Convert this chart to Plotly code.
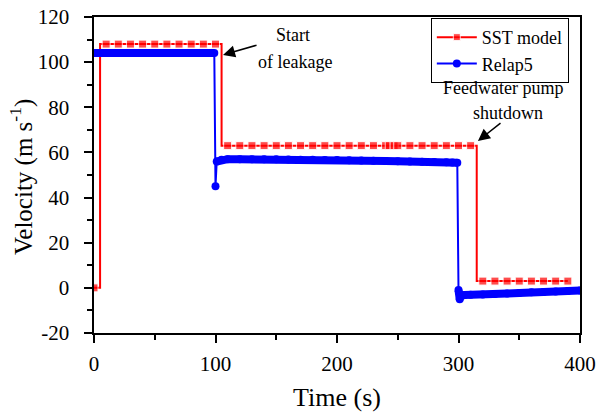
import plotly.graph_objects as go

# ---------------- data ----------------
# SST model (step series; 'sst_marked' flags points drawn with a marker)
sst_time = [0, 5, 5, 10, 20, 30, 40, 50, 60, 70, 80, 90, 100, 105, 105,
            110, 120, 130, 140, 150, 160, 170, 180, 190, 200, 210, 220, 230,
            240, 243, 247, 250, 260, 270, 280, 290, 300, 310, 315, 315,
            320, 330, 340, 350, 360, 370, 380, 390]
sst_vel = [0, 0, 108, 108, 108, 108, 108, 108, 108, 108, 108, 108, 108, 108, 63,
           63, 63, 63, 63, 63, 63, 63, 63, 63, 63, 63, 63, 63,
           63, 63, 63, 63, 63, 63, 63, 63, 63, 63, 63, 3,
           3, 3, 3, 3, 3, 3, 3, 3]
sst_marked = [1, 0, 0, 1, 1, 1, 1, 1, 1, 1, 1, 1, 1, 0, 0,
              1, 1, 1, 1, 1, 1, 1, 1, 1, 1, 1, 1, 1,
              1, 1, 1, 1, 1, 1, 1, 1, 1, 1, 0, 0,
              1, 1, 1, 1, 1, 1, 1, 1]

# Relap5
relap_time = [0, 5, 10, 15, 20, 25, 30, 35, 40, 45, 50, 55, 60, 65, 70, 75, 80, 85, 90, 95, 99,
              100, 101, 105, 110, 120, 130, 140, 150, 160, 170, 180, 190, 200, 210, 220, 230,
              240, 250, 260, 270, 280, 290, 295, 299,
              300, 301, 302, 305, 310, 320, 330, 340, 350, 360, 370, 380, 390, 400]
relap_vel = [104, 104, 104, 104, 104, 104, 104, 104, 104, 104, 104, 104, 104, 104, 104, 104, 104, 104, 104, 104, 104,
             45, 56, 56.8, 57, 57, 57, 57, 57, 56.9, 56.8, 56.8, 56.7, 56.6, 56.5, 56.4, 56.3,
             56.2, 56.1, 56, 55.9, 55.8, 55.6, 55.5, 55.4,
             -1, -5, -3.5, -3.2, -3, -2.9, -2.7, -2.5, -2.3, -2, -1.8, -1.6, -1.4, -1.2]

x_ticks = [0, 100, 200, 300, 400]
y_ticks = [-20, 0, 20, 40, 60, 80, 100, 120]

FONT = "Liberation Serif, Times New Roman, serif"
RED = "#FF0000"
BLUE = "#0000FF"
NBSP = "\u00a0"

# thick band for Relap5 horizontal parts (break on large jumps)
band_t, band_v = [], []
for i, (t, v) in enumerate(zip(relap_time, relap_vel)):
    if i > 0 and abs(v - relap_vel[i - 1]) > 5:
        band_t.append(None)
        band_v.append(None)
    band_t.append(t)
    band_v.append(v)

fig = go.Figure()

fig.add_trace(go.Scatter(
    x=sst_time, y=sst_vel, mode="lines+markers", name="SST model",
    line=dict(color=RED, width=2),
    marker=dict(symbol="square", color=RED, size=[8 if m else 0 for m in sst_marked]),
))
fig.add_trace(go.Scatter(
    x=band_t, y=band_v, mode="lines", showlegend=False, connectgaps=False,
    line=dict(color=BLUE, width=8), hoverinfo="skip",
))
fig.add_trace(go.Scatter(
    x=relap_time, y=relap_vel, mode="lines+markers", name="Relap5",
    line=dict(color=BLUE, width=2),
    marker=dict(symbol="circle", color=BLUE, size=8),
))

axis_common = dict(
    showline=True, linecolor="black", linewidth=2, mirror=True,
    ticks="outside", ticklen=8, tickwidth=2, tickcolor="black",
    showgrid=False, zeroline=False, automargin=False,
    tickfont=dict(family=FONT, size=21, color="black"),
)

fig.update_xaxes(
    range=[0, 400], tickvals=x_ticks, ticktext=[str(v) for v in x_ticks],
    minor=dict(ticks="outside", ticklen=5, tickwidth=2, tickcolor="black", dtick=50, tick0=0, showgrid=False),
    title=dict(text="Time (s)", font=dict(family=FONT, size=26, color="black"), standoff=13),
    ticklabelstandoff=3,
    **axis_common,
)
fig.update_yaxes(
    range=[-20, 120], tickvals=y_ticks, ticktext=[str(v) + NBSP * 2 for v in y_ticks],
    minor=dict(ticks="outside", ticklen=5, tickwidth=2, tickcolor="black", dtick=10, tick0=0, showgrid=False),
    **axis_common,
)

ann_font = dict(family=FONT, size=18, color="black")
annotations = [
    dict(x=106.2, y=103.2, ax=135, ay=107.7, xref="x", yref="y", axref="x", ayref="y",
         text="", showarrow=True, arrowhead=2, arrowsize=1.6, arrowwidth=1.5, arrowcolor="black"),
    dict(x=316, y=65.1, ax=335.8, ay=73.5, xref="x", yref="y", axref="x", ayref="y",
         text="", showarrow=True, arrowhead=2, arrowsize=1.6, arrowwidth=1.5, arrowcolor="black"),
    dict(x=163.8, y=112.1, xref="x", yref="y", text="Start", showarrow=False, font=ann_font),
    dict(x=165.4, y=100.1, xref="x", yref="y", text="of leakage", showarrow=False, font=ann_font),
    dict(x=336.6, y=88.6, xref="x", yref="y", text="Feedwater pump", showarrow=False, font=ann_font),
    dict(x=340.7, y=77.5, xref="x", yref="y", text="shutdown", showarrow=False, font=ann_font),
    dict(x=-0.148, y=0.494, xref="paper", yref="paper", xanchor="center", yanchor="middle",
         text="Velocity (m s<sup>-1</sup>)", textangle=-90, showarrow=False,
         font=dict(family=FONT, size=25, color="black")),
]

fig.update_layout(
    width=598, height=416,
    margin=dict(l=94, r=18, t=17, b=83),
    paper_bgcolor="white", plot_bgcolor="white",
    font=dict(family=FONT, color="black"),
    legend=dict(
        x=0.977, y=0.997, xanchor="right", yanchor="top",
        bgcolor="white", bordercolor="black", borderwidth=1,
        font=dict(family=FONT, size=18, color="black"),
        tracegroupgap=0, itemwidth=40,
    ),
    annotations=annotations,
    showlegend=True,
)

fig.write_html("out.html", config={"displayModeBar": False},
               post_script="document.body.style.margin='0';document.body.style.padding='0';")
